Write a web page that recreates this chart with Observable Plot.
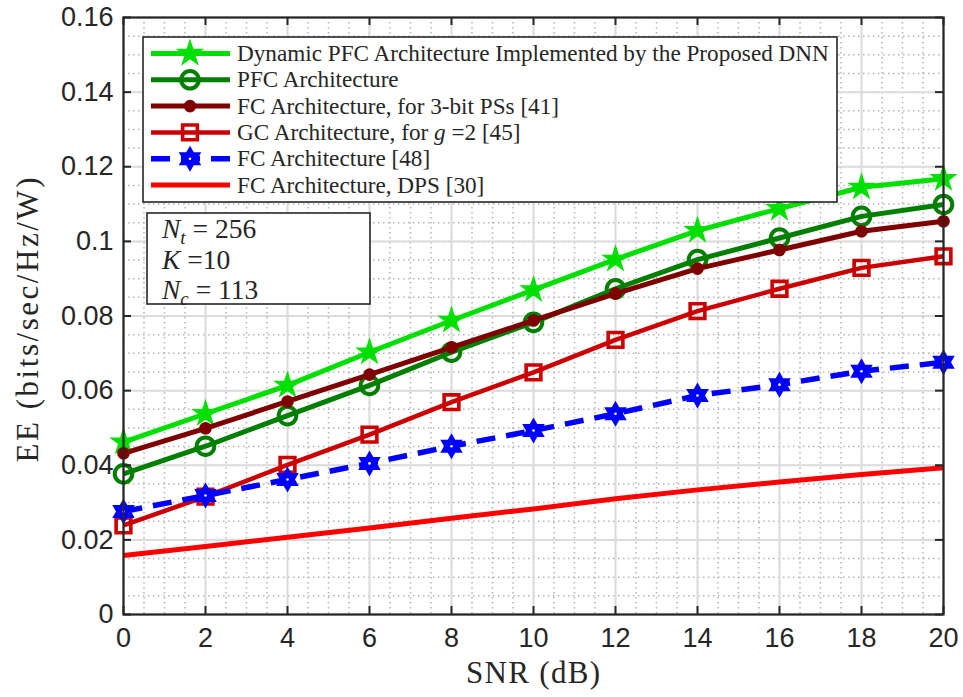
<!DOCTYPE html>
<html>
<head>
<meta charset="utf-8">
<script src="https://cdn.jsdelivr.net/npm/d3@7"></script>
<script src="https://cdn.jsdelivr.net/npm/@observablehq/plot@0.6"></script>
<style>
  html, body { margin: 0; padding: 0; background: #fff; }
  #chart { width: 963px; height: 697px; }
</style>
</head>
<body>
<div id="chart"></div>
<script>
// ---------- data ----------
const snr = [0, 2, 4, 6, 8, 10, 12, 14, 16, 18, 20];
const dynPFC = [0.0462, 0.0538, 0.0614, 0.0703, 0.0788, 0.0870, 0.0952, 0.1029, 0.1088, 0.1145, 0.1168];
const pfc    = [0.0377, 0.0451, 0.0533, 0.0614, 0.0703, 0.0783, 0.0873, 0.0951, 0.1009, 0.1067, 0.1099];
const fc3bit = [0.0432, 0.0499, 0.0571, 0.0643, 0.0716, 0.0788, 0.0860, 0.0927, 0.0977, 0.1027, 0.1054];
const gc2    = [0.0239, 0.0316, 0.0401, 0.0482, 0.0569, 0.0649, 0.0736, 0.0813, 0.0873, 0.0929, 0.0960];
const fc48   = [0.0276, 0.0319, 0.0362, 0.0405, 0.0451, 0.0493, 0.0538, 0.0587, 0.0616, 0.0652, 0.0676];
const fcDPS  = [0.0158, 0.0182, 0.0207, 0.0232, 0.0258, 0.0283, 0.0310, 0.0334, 0.0355, 0.0375, 0.0393];

const xTicks = [0, 2, 4, 6, 8, 10, 12, 14, 16, 18, 20];
const yTicks = [0, 0.02, 0.04, 0.06, 0.08, 0.10, 0.12, 0.14, 0.16];
const yTickLabels = ["0", "0.02", "0.04", "0.06", "0.08", "0.1", "0.12", "0.14", "0.16"];
const xMinor = d3.range(0, 20.001, 0.5);
const yMinor = d3.range(0, 0.1601, 0.005);

const xLabel = "SNR (dB)";
const yLabel = "EE (bits/sec/Hz/W)";

// ---------- symbols ----------
function starSymbol(points, innerRatio) {
  return {
    draw(ctx, size) {
      const R = Math.sqrt(size / Math.PI);
      const n = points * 2;
      for (let k = 0; k < n; k++) {
        const a = -Math.PI / 2 + k * Math.PI / points;
        const r = k % 2 === 0 ? R : R * innerRatio;
        const px = r * Math.cos(a), py = r * Math.sin(a);
        if (k === 0) ctx.moveTo(px, py); else ctx.lineTo(px, py);
      }
      ctx.closePath();
    }
  };
}
const pentagram = starSymbol(5, 0.382);
const hexagram = starSymbol(6, 1 / Math.sqrt(3));

const series = [
  {name: "dyn",  values: dynPFC, color: "#00e000", width: 5,   dash: null,    symbol: pentagram, r: 15,  fill: "#00e000", stroke: "none", sw: 0},
  {name: "pfc",  values: pfc,    color: "#007f00", width: 5,   dash: null,    symbol: "circle",  r: 8.8, fill: "none",    stroke: "#007f00", sw: 4},
  {name: "fc3",  values: fc3bit, color: "#7f0000", width: 5,   dash: null,    symbol: "circle",  r: 6.3, fill: "#7f0000", stroke: "none", sw: 0},
  {name: "gc",   values: gc2,    color: "#cc0000", width: 4.5, dash: null,    symbol: "square",  r: 8.3, fill: "none",    stroke: "#cc0000", sw: 3.6},
  {name: "fc48", values: fc48,   color: "#0000ff", width: 5.5, dash: "19,11", symbol: hexagram,  r: 13,  fill: "#0000ff", stroke: "none", sw: 0},
  {name: "dps",  values: fcDPS,  color: "#ff0000", width: 5,   dash: null,    symbol: null,      r: 0,   fill: "none",    stroke: "none", sw: 0}
];

const rowsOf = s => snr.map((x, i) => ({snr: x, ee: s.values[i]}));

const marks = [
  Plot.gridX(xMinor, {stroke: "#b4b4b4", strokeOpacity: 1, strokeWidth: 1.5, strokeDasharray: "1.5,3.5"}),
  Plot.gridY(yMinor, {stroke: "#b4b4b4", strokeOpacity: 1, strokeWidth: 1.5, strokeDasharray: "1.5,3.5"}),
  Plot.gridX(xTicks, {stroke: "#dcdcdc", strokeOpacity: 1, strokeWidth: 2}),
  Plot.gridY(yTicks, {stroke: "#dcdcdc", strokeOpacity: 1, strokeWidth: 2})
];

for (const s of series) {
  const rows = rowsOf(s);
  marks.push(Plot.line(rows, {x: "snr", y: "ee", stroke: s.color, strokeWidth: s.width,
    strokeDasharray: s.dash, strokeLinejoin: "round", strokeLinecap: "butt"}));
  if (s.symbol) {
    marks.push(Plot.dot(rows, {x: "snr", y: "ee", symbol: s.symbol, r: s.r,
      fill: s.fill, stroke: s.stroke, strokeWidth: s.sw}));
  }
}
marks.push(Plot.dot(rowsOf(series[4]), {x: "snr", y: "ee", r: 1.3, fill: "white", stroke: "none"}));

// inward tick marks (bottom, top, left, right)
const tx = 8 * 20 / 820, ty = 8 * 0.16 / 597;
marks.push(
  Plot.ruleX(xTicks, {y1: 0, y2: ty, stroke: "#262626", strokeWidth: 2}),
  Plot.ruleX(xTicks, {y1: 0.16, y2: 0.16 - ty, stroke: "#262626", strokeWidth: 2}),
  Plot.ruleY(yTicks, {x1: 0, x2: tx, stroke: "#262626", strokeWidth: 2}),
  Plot.ruleY(yTicks, {x1: 20, x2: 20 - tx, stroke: "#262626", strokeWidth: 2}),
  Plot.frame({stroke: "#262626", strokeWidth: 2.2}),
  Plot.axisX(xTicks, {tickSize: 0, tickPadding: 13, fill: "#262626", fontSize: 27, label: null, tickFormat: d => String(d)}),
  Plot.axisY(yTicks, {tickSize: 0, tickPadding: 10, fill: "#262626", fontSize: 27, label: null,
    tickFormat: d => yTickLabels[yTicks.indexOf(d)]})
);

const chart = Plot.plot({
  width: 963, height: 697,
  marginLeft: 123, marginRight: 20, marginTop: 17, marginBottom: 83,
  x: {domain: [0, 20]},
  y: {domain: [0, 0.16]},
  style: {fontFamily: "Liberation Sans, Arial, sans-serif", fontSize: "27px", color: "#262626", background: "white"},
  marks
});
document.getElementById("chart").appendChild(chart);

const svg = d3.select(chart);

// ---------- axis titles ----------
svg.append("text").attr("x", 533).attr("y", 683).attr("text-anchor", "middle")
  .attr("font-family", "Liberation Serif").attr("font-size", 31).attr("fill", "#262626")
  .attr("textLength", 134).attr("lengthAdjust", "spacing").text(xLabel);
svg.append("text").attr("transform", "translate(38,320) rotate(-90)").attr("text-anchor", "middle")
  .attr("font-family", "Liberation Serif").attr("font-size", 31).attr("fill", "#262626")
  .attr("textLength", 285).attr("lengthAdjust", "spacing").text(yLabel);

// ---------- legend ----------
const legendItems = [
  [{t: "Dynamic PFC Architecture Implemented by the Proposed DNN"}],
  [{t: "PFC Architecture"}],
  [{t: "FC Architecture, for 3-bit PSs [41]"}],
  [{t: "GC Architecture, for "}, {t: "g", i: true}, {t: " =2 [45]"}],
  [{t: "FC Architecture [48]"}],
  [{t: "FC Architecture, DPS [30]"}]
];
const lg = svg.append("g").attr("text-anchor", "start");
lg.append("rect").attr("x", 143).attr("y", 37).attr("width", 694).attr("height", 165)
  .attr("fill", "white").attr("stroke", "#262626").attr("stroke-width", 1.6);
series.forEach((s, i) => {
  const cy = 53.5 + i * 26.3;
  lg.append("line").attr("x1", 151).attr("x2", 230).attr("y1", cy).attr("y2", cy)
    .attr("stroke", s.color).attr("stroke-width", s.width)
    .attr("stroke-dasharray", s.dash);
  if (s.symbol) {
    const type = s.symbol === "circle" ? d3.symbolCircle : s.symbol === "square" ? d3.symbolSquare : s.symbol;
    lg.append("path").attr("transform", `translate(190,${cy})`)
      .attr("d", d3.symbol(type, Math.PI * s.r * s.r)())
      .attr("fill", s.fill).attr("stroke", s.stroke).attr("stroke-width", s.sw);
  }
  if (s.name === "fc48") {
    lg.append("circle").attr("cx", 190).attr("cy", cy).attr("r", 1.3).attr("fill", "white");
  }
  const txt = lg.append("text").attr("x", 237).attr("y", cy + 7.5).attr("text-anchor", "start")
    .attr("font-family", "Liberation Serif").attr("font-size", 23.2).attr("fill", "#262626");
  for (const part of legendItems[i]) {
    txt.append("tspan").attr("font-style", part.i ? "italic" : null).text(part.t);
  }
});

// ---------- annotation box ----------
const ab = svg.append("g").attr("font-family", "Liberation Serif").attr("fill", "#262626").attr("text-anchor", "start");
ab.append("rect").attr("x", 147).attr("y", 213).attr("width", 223).attr("height", 91)
  .attr("fill", "white").attr("stroke", "#262626").attr("stroke-width", 1.6);
const annLines = [
  [{t: "N", i: true}, {t: "t", i: true, sub: true}, {t: " = 256", after: true}],
  [{t: "K", i: true}, {t: " =10"}],
  [{t: "N", i: true}, {t: "c", i: true, sub: true}, {t: " = 113", after: true}]
];
annLines.forEach((parts, i) => {
  const t = ab.append("text").attr("x", 162).attr("y", 238 + i * 30.5).attr("font-size", 27.5).attr("text-anchor", "start");
  for (const p of parts) {
    const sp = t.append("tspan").attr("font-style", p.i ? "italic" : null).text(p.t);
    if (p.sub) sp.attr("font-size", 19).attr("dy", 6);
    if (p.after) sp.attr("dy", -6);
  }
});
</script>
</body>
</html>
